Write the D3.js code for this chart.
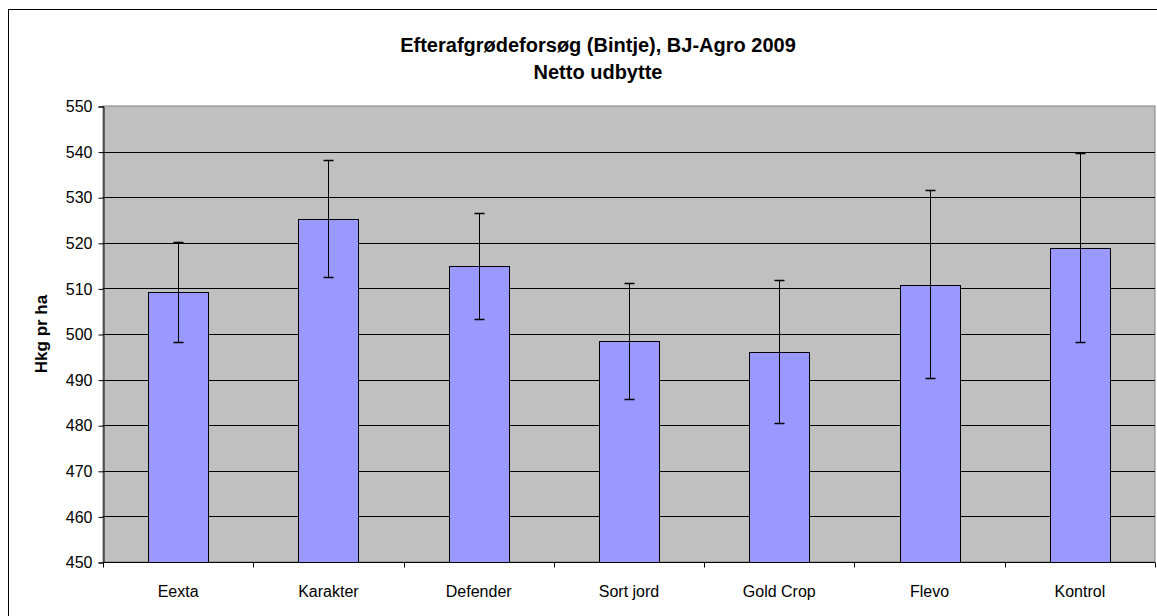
<!DOCTYPE html>
<html>
<head>
<style>
  body { margin: 0; background: #fff; }
  text { font-family: "Liberation Sans", Arial, sans-serif; }
</style>
</head>
<body>

<script src="https://d3js.org/d3.v7.min.js"></script>
<script>

const width = 1157;
const height = 616;

const categories = ['Eexta', 'Karakter', 'Defender', 'Sort jord', 'Gold Crop', 'Flevo', 'Kontrol'];
const yields = [509.2, 525.3, 514.9, 498.5, 496.1, 510.8, 518.9];
const errLow = [498.2, 512.4, 503.2, 485.7, 480.4, 490.3, 498.2];
const errHigh = [520.2, 538.1, 526.5, 511.1, 511.8, 531.5, 539.7];
const yTicks = [450, 460, 470, 480, 490, 500, 510, 520, 530, 540, 550];
const titleLines = ['Efterafgrødeforsøg (Bintje), BJ-Agro 2009', 'Netto udbytte'];
const yLabel = 'Hkg pr ha';

const data = categories.map((c, i) => ({
  name: c, value: yields[i], lo: errLow[i], hi: errHigh[i]
}));

const plot = { left: 103, right: 1155, top: 106, bottom: 562 };

const svg = d3.select('body')
              .append('svg')
              .attr('width', width)
              .attr('height', height);

// chart frame
svg.append('rect')
   .attr('x', 8.5).attr('y', 9.5)
   .attr('width', 1160).attr('height', 620)
   .attr('fill', '#fff')
   .attr('stroke', '#000');

const x = d3.scaleBand()
            .domain(categories)
            .range([plot.left, plot.right])
            .paddingInner(0.6)
            .paddingOuter(0.3);

const y = d3.scaleLinear()
            .domain([450, 550])
            .range([plot.bottom, plot.top]);

// plot background
svg.append('rect')
   .attr('x', plot.left).attr('y', plot.top)
   .attr('width', plot.right - plot.left)
   .attr('height', plot.bottom - plot.top)
   .attr('fill', '#c0c0c0')
   .attr('stroke', '#808080');

// gridlines
svg.append('g')
   .selectAll('line')
   .data(yTicks.slice(1, -1))
   .enter()
   .append('line')
   .attr('x1', plot.left).attr('x2', plot.right)
   .attr('y1', d => Math.round(y(d)) + 0.5)
   .attr('y2', d => Math.round(y(d)) + 0.5)
   .attr('stroke', '#000');

// bars
svg.append('g')
   .selectAll('rect')
   .data(data)
   .enter()
   .append('rect')
   .attr('x', d => Math.round(x(d.name)) + 0.5)
   .attr('y', d => Math.round(y(d.value)) + 0.5)
   .attr('width', Math.round(x.bandwidth()))
   .attr('height', d => Math.round(y(450)) - Math.round(y(d.value)))
   .attr('fill', '#9999ff')
   .attr('stroke', '#000');

// error bars
const err = svg.append('g')
               .selectAll('g')
               .data(data)
               .enter()
               .append('g')
               .attr('stroke', '#000');

const cx = d => Math.round(x(d.name) + x.bandwidth() / 2) + 0.5;

err.append('line')
   .attr('x1', cx).attr('x2', cx)
   .attr('y1', d => y(d.hi)).attr('y2', d => y(d.lo));

err.append('line')
   .attr('x1', d => cx(d) - 5).attr('x2', d => cx(d) + 5)
   .attr('y1', d => Math.round(y(d.hi)) + 0.5).attr('y2', d => Math.round(y(d.hi)) + 0.5)
   .attr('stroke-width', 1.5);

err.append('line')
   .attr('x1', d => cx(d) - 5).attr('x2', d => cx(d) + 5)
   .attr('y1', d => Math.round(y(d.lo)) + 0.5).attr('y2', d => Math.round(y(d.lo)) + 0.5)
   .attr('stroke-width', 1.5);

// y axis
const yAxis = svg.append('g')
   .attr('transform', `translate(${plot.left + 0.5},0.5)`)
   .call(d3.axisLeft(y).tickValues(yTicks).tickSize(5).tickPadding(6));

yAxis.select('.domain').attr('stroke', '#000');
yAxis.selectAll('text')
     .attr('font-size', 16)
     .attr('font-family', '"Liberation Sans", Arial, sans-serif')
     .attr('fill', '#000');

// x axis with ticks at category boundaries
const xAxis = svg.append('g')
   .attr('transform', `translate(0,${plot.bottom + 0.5})`);

xAxis.append('line')
     .attr('x1', plot.left).attr('x2', plot.right)
     .attr('stroke', '#000');

const step = (plot.right - plot.left) / categories.length;
xAxis.selectAll('.tick')
     .data(d3.range(categories.length + 1))
     .enter()
     .append('line')
     .attr('x1', d => Math.round(plot.left + d * step) + 0.5)
     .attr('x2', d => Math.round(plot.left + d * step) + 0.5)
     .attr('y1', 0).attr('y2', 5)
     .attr('stroke', '#000');

xAxis.selectAll('text')
     .data(categories)
     .enter()
     .append('text')
     .attr('x', d => x(d) + x.bandwidth() / 2)
     .attr('y', 34)
     .attr('text-anchor', 'middle')
     .attr('font-size', 16)
     .text(d => d);

// title
svg.append('g')
   .selectAll('text')
   .data(titleLines)
   .enter()
   .append('text')
   .attr('x', 598)
   .attr('y', (d, i) => 52 + i * 27)
   .attr('text-anchor', 'middle')
   .attr('font-size', 20)
   .attr('font-weight', 'bold')
   .text(d => d);

// y label
svg.append('text')
   .attr('transform', `translate(47,${(plot.top + plot.bottom) / 2}) rotate(-90)`)
   .attr('text-anchor', 'middle')
   .attr('font-size', 17)
   .attr('font-weight', 'bold')
   .text(yLabel);

</script>
</body>
</html>
